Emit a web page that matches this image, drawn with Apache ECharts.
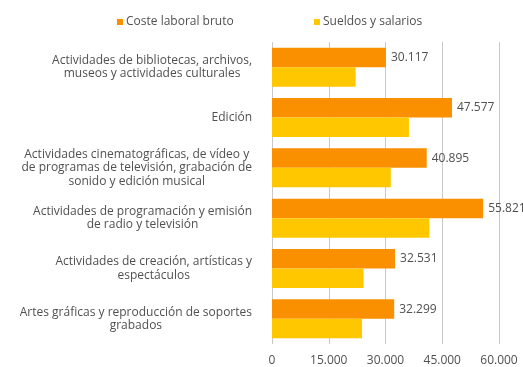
<!DOCTYPE html>
<html>
<head>
<meta charset="utf-8">
<script src="https://cdn.jsdelivr.net/npm/echarts@6/dist/echarts.min.js"></script>
<style>
  html, body { margin: 0; padding: 0; background: #fff; }
  #chart { width: 523px; height: 367px; }
</style>
</head>
<body>
<div id="chart"></div>
<script>
// Categories (top to bottom) and the two cost series, in euros
const categories = [
  'Actividades de bibliotecas, archivos,\nmuseos y actividades culturales',
  'Edición',
  'Actividades cinematográficas, de vídeo y\nde programas de televisión, grabación de\nsonido y edición musical',
  'Actividades de programación y emisión\nde radio y televisión',
  'Actividades de creación, artísticas y\nespectáculos',
  'Artes gráficas y reproducción de soportes\ngrabados'
];
const costeLaboral = [30117, 47577, 40895, 55821, 32531, 32299];
const sueldos = [22100, 36200, 31400, 41600, 24200, 23800];
const seriesNames = ['Coste laboral bruto', 'Sueldos y salarios'];
const axisTicks = [0, 15000, 30000, 45000, 60000];

const FONT = 'Open Sans';
const TEXT = '#505050';
const ORANGE = '#FA9000';
const YELLOW = '#FFC700';
const SIZE = 12;

// Spanish thousands separator
const fmt = v => String(v).replace(/\B(?=(\d{3})+(?!\d))/g, '.');

const legendItem = (name, left) => ({
  data: [name], left: left, top: 16, padding: 0,
  icon: 'rect', itemWidth: 6, itemHeight: 6,
  textStyle: { fontFamily: FONT, fontSize: SIZE, color: TEXT, padding: [0, 0, 0, -2] }
});

const chart = echarts.init(document.getElementById('chart'));
chart.setOption({
  animation: false,
  textStyle: { fontFamily: FONT },
  legend: [legendItem(seriesNames[0], 117), legendItem(seriesNames[1], 314)],
  grid: { left: 272, right: 24, top: 42, bottom: 22, containLabel: false },
  xAxis: {
    type: 'value',
    min: axisTicks[0],
    max: axisTicks[axisTicks.length - 1],
    interval: axisTicks[1] - axisTicks[0],
    axisLine: { show: false },
    axisTick: { show: false },
    splitLine: { show: true, lineStyle: { color: '#c8c8c8', width: 1 } },
    axisLabel: {
      fontFamily: FONT, fontSize: SIZE, color: TEXT, margin: 11,
      formatter: v => fmt(v)
    }
  },
  yAxis: {
    type: 'category',
    inverse: true,
    data: categories,
    axisLine: { show: false },
    axisTick: { show: false },
    axisLabel: {
      margin: 20,
      align: 'right',
      formatter: v => v.split('\n').map(l => '{c|' + l + '}').join('\n'),
      rich: {
        c: { fontFamily: FONT, fontSize: SIZE, color: TEXT, align: 'center', lineHeight: 13.5 }
      }
    }
  },
  series: [
    {
      name: seriesNames[0],
      type: 'bar',
      data: costeLaboral,
      itemStyle: { color: ORANGE },
      barWidth: 19.5,
      barGap: '0%',
      label: {
        show: true, position: 'right', distance: 5,
        fontFamily: FONT, fontSize: SIZE, color: TEXT,
        formatter: p => fmt(p.value)
      }
    },
    {
      name: seriesNames[1],
      type: 'bar',
      data: sueldos,
      itemStyle: { color: YELLOW },
      barWidth: 19.5,
      barGap: '0%'
    }
  ]
});
</script>
</body>
</html>
